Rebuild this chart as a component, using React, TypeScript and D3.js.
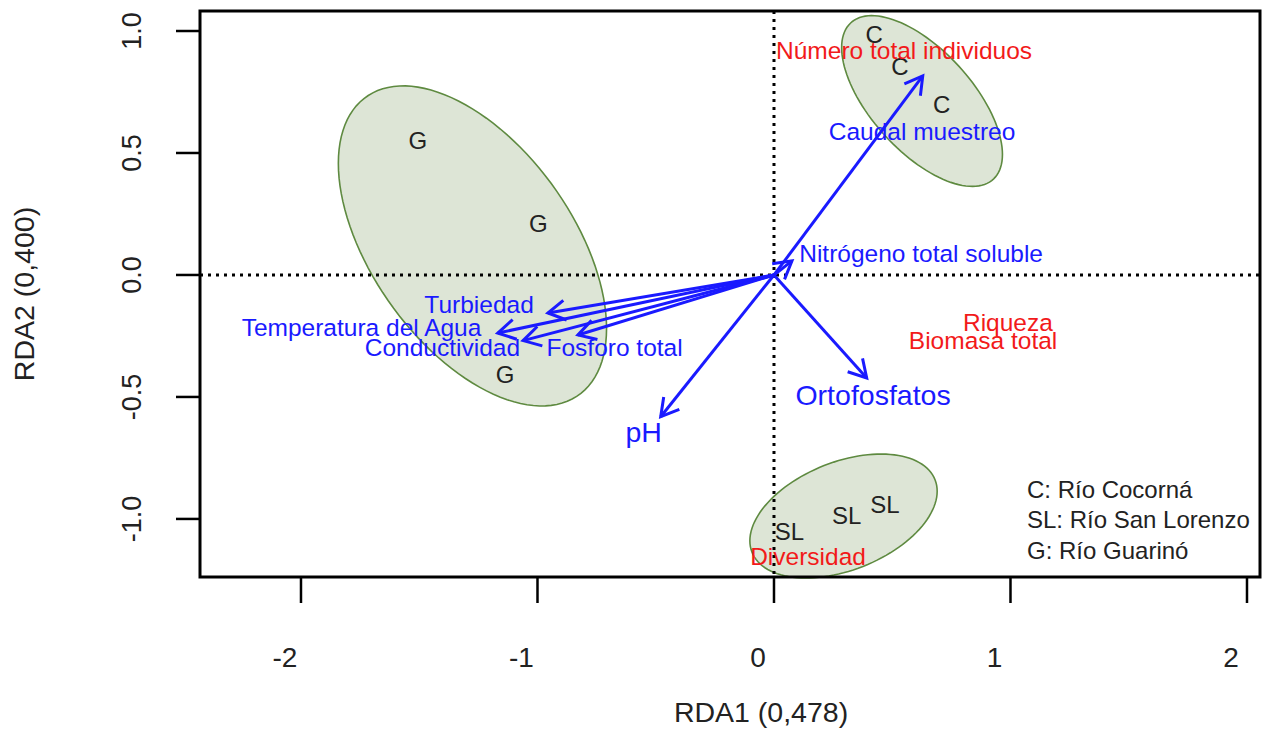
import React, { useRef, useEffect } from 'react';
import * as d3 from 'd3';

// site scores (labels drawn as text)
const siteLabels = ['C', 'C', 'C', 'G', 'G', 'G', 'SL', 'SL', 'SL'];
const siteX = [0.424, 0.533, 0.709, -1.506, -0.996, -1.137, 0.065, 0.307, 0.469];
const siteY = [0.984, 0.856, 0.697, 0.553, 0.209, -0.41, -1.052, -0.984, -0.939];

// environmental vectors: arrow tips and label anchors
const envNames = [
  'Turbiedad',
  'Temperatura del Agua',
  'Conductividad',
  'Fosforo total',
  'pH',
  'Caudal muestreo',
  'Nitrógeno total soluble',
  'Ortofosfatos',
];
const envX = [-0.956, -1.168, -1.061, -0.829, -0.479, 0.629, 0.076, 0.392];
const envY = [-0.156, -0.238, -0.269, -0.246, -0.581, 0.816, 0.058, -0.422];
const envLabelX = [-1.247, -1.744, -1.402, -0.674, -0.551, 0.626, 0.622, 0.419];
const envLabelY = [-0.119, -0.217, -0.299, -0.299, -0.642, 0.587, 0.086, -0.492];

// response variables (red)
const respNames = ['Número total individuos', 'Riqueza', 'Biomasa total', 'Diversidad'];
const respX = [0.55, 0.989, 0.884, 0.144];
const respY = [0.922, -0.195, -0.27, -1.156];

// group ellipses: centre, spread on each axis, correlation
const ellGroups = ['C', 'G', 'SL'];
const ellCx = [0.626, -1.275, 0.294];
const ellCy = [0.713, 0.119, -0.988];
const ellSx = [0.34, 0.567, 0.396];
const ellSy = [0.35, 0.656, 0.254];
const ellR = [-0.625, -0.516, 0.4];

const legendLines = ['C: Río Cocorná', 'SL: Río San Lorenzo', 'G: Río Guarinó'];

const xTicks = [-2, -1, 0, 1, 2];
const yTicks = [-1, -0.5, 0, 0.5, 1];

const FONT = '"Liberation Sans", Arial, sans-serif';

function App() {
  const ref = useRef<SVGSVGElement | null>(null);

  useEffect(() => {
    if (!ref.current) return;
    const svg = d3.select(ref.current);
    svg.selectAll('*').remove();

    const left = 200;
    const right = 1260;
    const top = 11;
    const bottom = 577;

    const x = d3.scaleLinear().domain([-2.427, 2.055]).range([left, right]);
    const y = d3.scaleLinear().domain([-1.238, 1.082]).range([bottom, top]);

    // ellipses
    const line = d3
      .line<[number, number]>()
      .x((d) => x(d[0]))
      .y((d) => y(d[1]))
      .curve(d3.curveLinearClosed);
    ellGroups.forEach((g, i) => {
      const pts: [number, number][] = d3.range(0, 361, 3).map((deg) => {
        const t = (deg * Math.PI) / 180;
        const r = ellR[i];
        return [
          ellCx[i] + ellSx[i] * Math.cos(t),
          ellCy[i] + ellSy[i] * (r * Math.cos(t) + Math.sqrt(1 - r * r) * Math.sin(t)),
        ];
      });
      svg
        .append('path')
        .attr('d', line(pts))
        .attr('fill', '#dde5d6')
        .attr('stroke', '#5e8a40')
        .attr('stroke-width', 1.6);
    });

    // zero lines
    svg
      .append('line')
      .attr('x1', left)
      .attr('x2', right)
      .attr('y1', y(0))
      .attr('y2', y(0))
      .attr('stroke', '#000')
      .attr('stroke-width', 3)
      .attr('stroke-dasharray', '3 5');
    svg
      .append('line')
      .attr('x1', x(0))
      .attr('x2', x(0))
      .attr('y1', top)
      .attr('y2', bottom)
      .attr('stroke', '#000')
      .attr('stroke-width', 3)
      .attr('stroke-dasharray', '3 5');

    // site labels
    svg
      .append('g')
      .selectAll('text')
      .data(siteLabels)
      .join('text')
      .attr('x', (_d, i) => x(siteX[i]))
      .attr('y', (_d, i) => y(siteY[i]))
      .attr('text-anchor', 'middle')
      .attr('dominant-baseline', 'central')
      .attr('font-family', FONT)
      .attr('font-size', 24)
      .attr('fill', '#222')
      .text((d) => d);

    // arrows
    const blue = '#1a1aff';
    const headLen = 20;
    const headAng = (30 * Math.PI) / 180;
    envNames.forEach((_n, i) => {
      const x0 = x(0);
      const y0 = y(0);
      const x1 = x(envX[i]);
      const y1 = y(envY[i]);
      const a = Math.atan2(y1 - y0, x1 - x0);
      const g = svg.append('g').attr('stroke', blue).attr('stroke-width', 3).attr('fill', 'none');
      g.append('line').attr('x1', x0).attr('y1', y0).attr('x2', x1).attr('y2', y1);
      g.append('path').attr(
        'd',
        `M${x1 - headLen * Math.cos(a - headAng)},${y1 - headLen * Math.sin(a - headAng)}L${x1},${y1}L${
          x1 - headLen * Math.cos(a + headAng)
        },${y1 - headLen * Math.sin(a + headAng)}`,
      );
    });

    const big = new Set(['pH', 'Ortofosfatos']);
    svg
      .append('g')
      .selectAll('text')
      .data(envNames)
      .join('text')
      .attr('x', (_d, i) => x(envLabelX[i]))
      .attr('y', (_d, i) => y(envLabelY[i]))
      .attr('text-anchor', 'middle')
      .attr('dominant-baseline', 'central')
      .attr('font-family', FONT)
      .attr('font-size', (d) => (big.has(d) ? 28.5 : 24.5))
      .attr('fill', blue)
      .text((d) => d);

    svg
      .append('g')
      .selectAll('text')
      .data(respNames)
      .join('text')
      .attr('x', (_d, i) => x(respX[i]))
      .attr('y', (_d, i) => y(respY[i]))
      .attr('text-anchor', 'middle')
      .attr('dominant-baseline', 'central')
      .attr('font-family', FONT)
      .attr('font-size', 24.5)
      .attr('fill', '#f21a1a')
      .text((d) => d);

    // legend
    svg
      .append('g')
      .selectAll('text')
      .data(legendLines)
      .join('text')
      .attr('x', 1027)
      .attr('y', (_d, i) => 489 + i * 30.5)
      .attr('dominant-baseline', 'central')
      .attr('font-family', FONT)
      .attr('font-size', 24)
      .attr('fill', '#222')
      .text((d) => d);

    // box
    svg
      .append('rect')
      .attr('x', left)
      .attr('y', top)
      .attr('width', right - left)
      .attr('height', bottom - top)
      .attr('fill', 'none')
      .attr('stroke', '#000')
      .attr('stroke-width', 3);

    // x axis (R style: plain hyphen minus)
    const xa = svg.append('g');
    xTicks.forEach((t) => {
      xa.append('line')
        .attr('x1', x(t))
        .attr('x2', x(t))
        .attr('y1', bottom)
        .attr('y2', bottom + 26)
        .attr('stroke', '#000')
        .attr('stroke-width', 2.5);
      xa.append('text')
        .attr('x', x(t) - 16)
        .attr('y', 657)
        .attr('text-anchor', 'middle')
        .attr('dominant-baseline', 'central')
        .attr('font-family', FONT)
        .attr('font-size', 28)
        .attr('fill', '#222')
        .text(String(t));
    });
    svg
      .append('text')
      .attr('x', 761)
      .attr('y', 712)
      .attr('text-anchor', 'middle')
      .attr('dominant-baseline', 'central')
      .attr('font-family', FONT)
      .attr('font-size', 28.5)
      .attr('fill', '#222')
      .text('RDA1 (0,478)');

    // y axis
    const ya = svg.append('g');
    yTicks.forEach((t) => {
      ya.append('line')
        .attr('x1', left - 24)
        .attr('x2', left)
        .attr('y1', y(t))
        .attr('y2', y(t))
        .attr('stroke', '#000')
        .attr('stroke-width', 2.5);
      ya.append('text')
        .attr('transform', `translate(132,${y(t)}) rotate(-90)`)
        .attr('text-anchor', 'middle')
        .attr('dominant-baseline', 'central')
        .attr('font-family', FONT)
        .attr('font-size', 27)
        .attr('fill', '#222')
        .text(t.toFixed(1));
    });
    svg
      .append('text')
      .attr('transform', `translate(24,294) rotate(-90)`)
      .attr('text-anchor', 'middle')
      .attr('dominant-baseline', 'central')
      .attr('font-family', FONT)
      .attr('font-size', 28.5)
      .attr('fill', '#222')
      .text('RDA2 (0,400)');
  }, []);

  return (
    <svg
      ref={ref}
      width={1274}
      height={730}
      style={{ position: 'absolute', left: 0, top: 0, background: '#fff' }}
    />
  );
}

export default App;
